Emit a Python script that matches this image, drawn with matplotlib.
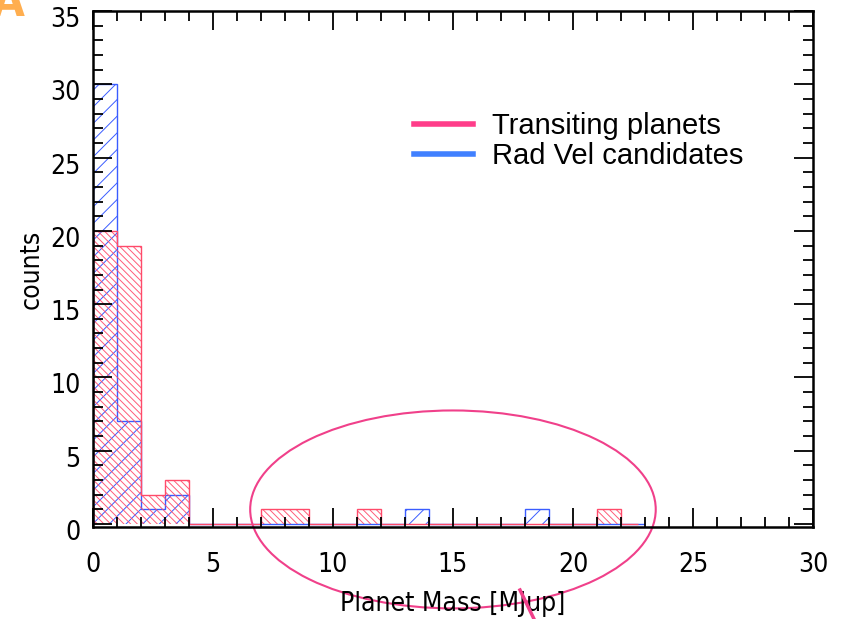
import numpy as np
import matplotlib.pyplot as plt
from matplotlib.patches import Ellipse
from matplotlib.lines import Line2D
from matplotlib.ticker import MultipleLocator
from matplotlib.transforms import ScaledTranslation

# histogram counts per 1 MJup bin, 0..23
bin_edges = np.arange(0, 24)
transiting = [20, 19, 2, 3, 0, 0, 0, 1, 1, 0, 0, 1, 0, 0, 0, 0, 0, 0, 0, 0, 0, 1, 0]
radvel = [30, 7, 1, 2, 0, 0, 0, 0, 0, 0, 0, 0, 0, 1, 0, 0, 0, 0, 1, 0, 0, 0, 0]
series_names = ["Transiting planets", "Rad Vel candidates"]

red = "#ff4a6a"
blue = "#3a5cff"
plt.rcParams['hatch.linewidth'] = 0.7
plt.rcParams['font.family'] = ['DejaVu Sans']
plt.rcParams['font.stretch'] = 'condensed'
plt.rcParams['font.size'] = 19

fig = plt.figure(figsize=(8.41, 6.19), dpi=100)
ax = fig.add_axes([0.1106, 0.1486, 0.856, 0.8337])

red_edges = bin_edges[:-1].tolist() + [22.7]

# radial velocity sample
ax.stairs(radvel, bin_edges, fill=True, facecolor='none', edgecolor=blue,
          hatch='//', linewidth=0)
ax.stairs(radvel, bin_edges, color=blue, linewidth=1.0)

# transiting sample, denser hatching
ax.stairs(transiting, red_edges, fill=True, facecolor='none',
          edgecolor=red, hatch='\\\\\\\\\\', linewidth=0, alpha=0.9)
ax.stairs(transiting, red_edges, color=red, linewidth=1.0)

ax.set_xlim(0, 30)
ax.set_ylim(-0.2, 35)
ax.xaxis.set_major_locator(MultipleLocator(5))
ax.xaxis.set_minor_locator(MultipleLocator(1))
ax.yaxis.set_major_locator(MultipleLocator(5))
ax.yaxis.set_minor_locator(MultipleLocator(1))
ax.tick_params(which='both', direction='in', top=True, right=True, width=1.3)
ax.tick_params(which='major', length=14, labelsize=19)
ax.tick_params(which='minor', length=7)
ax.tick_params(axis='x', which='major', pad=18)
ax.tick_params(axis='y', which='major', pad=9)
for s in ax.spines.values():
    s.set_linewidth(1.8)

# y labels sit a little below their ticks
shift = ScaledTranslation(0, -0.06, fig.dpi_scale_trans)
for lab in ax.get_yticklabels():
    lab.set_transform(lab.get_transform() + shift)

ax.set_xlabel("Planet Mass [MJup]", fontsize=19, labelpad=9)
ax.set_ylabel("counts", fontsize=19, labelpad=4)

handles = [Line2D([], [], color="#ff3d8a", linewidth=4),
           Line2D([], [], color="#4080ff", linewidth=4)]
leg = ax.legend(handles, series_names, loc='upper left', bbox_to_anchor=(0.41, 0.855),
                frameon=False, prop={'family': 'Liberation Sans', 'size': 21,
                                     'stretch': 'normal'},
                handlelength=2.0, handletextpad=0.65, labelspacing=0.08)

# ellipse around the high-mass tail
ax.add_patch(Ellipse((15.0, 1.0), 16.9, 13.5, fill=False, edgecolor="#f0408a",
                     linewidth=1.5, clip_on=False))
fig.add_artist(Line2D([520 / 841, 534 / 841], [1 - 590 / 619, 1 - 619 / 619],
                      color="#f0408a", linewidth=2.5))
fig.text(-0.01, 1.03, "A", color="#ffa030", fontsize=34, fontweight='bold',
         family='DejaVu Sans', va='top', ha='left', alpha=0.85)

fig.savefig("out.png", dpi=100)
